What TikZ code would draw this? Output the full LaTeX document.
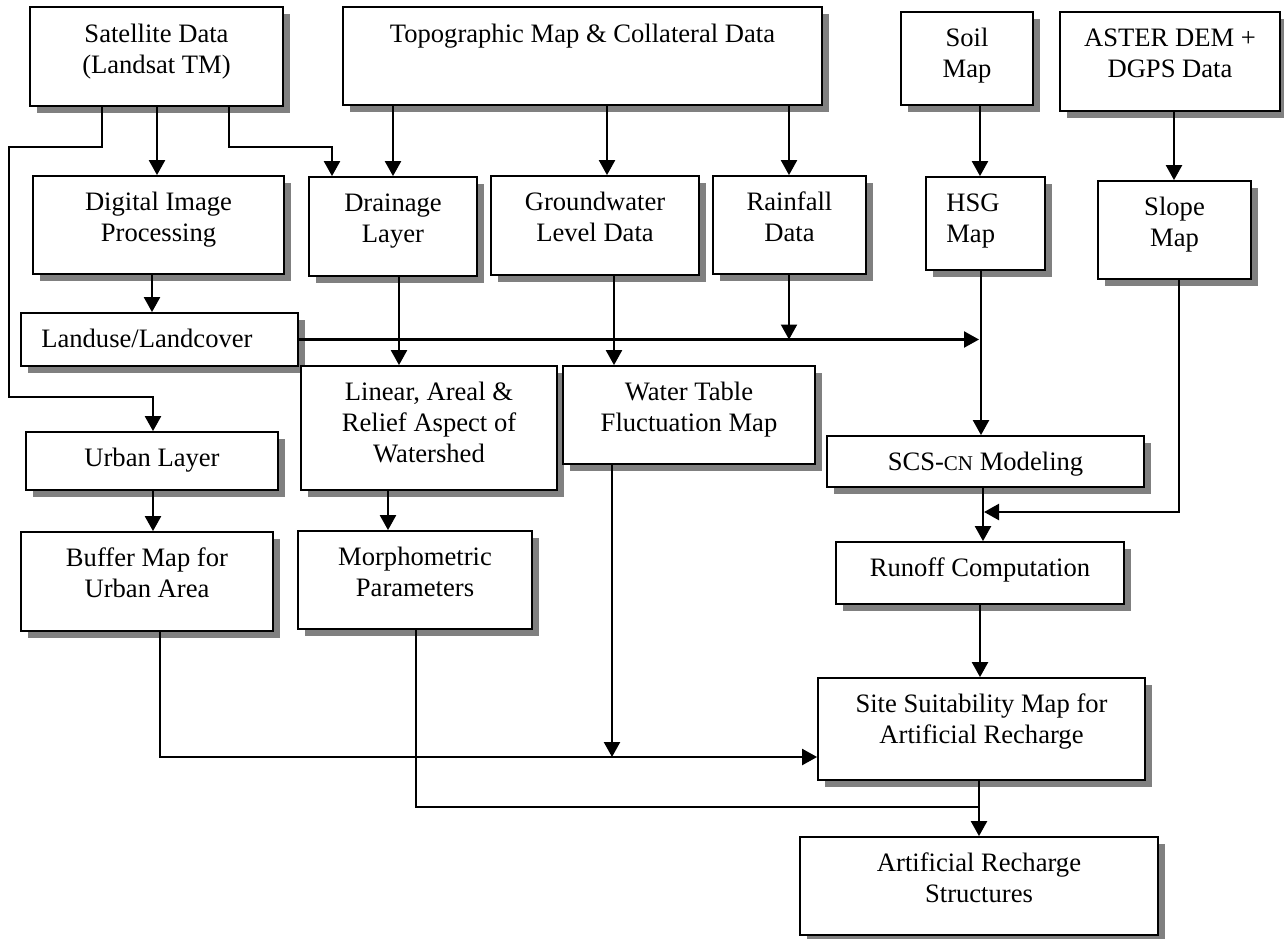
\documentclass[tikz,border=0pt]{standalone}
\usepackage{fontspec}
\setmainfont{Liberation Serif}
\usetikzlibrary{arrows.meta,shadows}
\definecolor{shadowgray}{RGB}{128,128,128}
\newcommand\fbx[5]{%
  \pgfmathsetmacro\bxw{#4-#2}%
  \pgfmathsetmacro\bxh{#5-#3}%
  \pgfmathsetmacro\bxx{(#2+#4)/2}%
  \pgfmathsetmacro\bxy{(#3+#5)/2}%
  \node[flowbox, minimum width=\bxw pt, minimum height=\bxh pt] (#1) at (\bxx,\bxy) {};%
}
\tikzset{
  flowbox/.style={draw, line width=1.8pt, fill=white, inner sep=0pt,
    drop shadow={shadow xshift=6.5pt, shadow yshift=-6.5pt, fill=shadowgray, opacity=1}},
  txt/.style={font=\fontsize{26.6}{31}\selectfont, align=center, inner sep=0pt, anchor=north},
  conn/.style={line width=2.3pt, -{Triangle[length=15pt,width=16pt]}},
  thinln/.style={line width=1.6pt},
}
\begin{document}
\begin{tikzpicture}[x=1pt,y=-1pt]
\useasboundingbox (0,0) rectangle (1284,938);
\fill[white] (0,0) rectangle (1284,938);

% boxes
\fbx{sat}{30}{7}{283}{106}
\fbx{topo}{343}{7}{822}{105}
\fbx{soil}{901}{12}{1033}{105}
\fbx{aster}{1060}{12}{1280}{111}
\fbx{dip}{33}{176}{284}{274}
\fbx{drain}{309}{177}{477}{276}
\fbx{gw}{491}{176}{699}{275}
\fbx{rain}{713}{176}{866}{274}
\fbx{hsg}{926}{177}{1045}{270}
\fbx{slope}{1098}{181}{1251}{279}
\fbx{land}{21}{313}{298}{366}
\fbx{lin}{301}{366}{557}{490}
\fbx{wt}{563}{366}{815}{464}
\fbx{urban}{26}{432}{278}{490}
\fbx{scs}{827}{436}{1144}{487}
\fbx{buffer}{21}{532}{273}{631}
\fbx{morpho}{298}{531}{532}{629}
\fbx{runoff}{836}{542}{1124}{604}
\fbx{site}{818}{678}{1145}{780}
\fbx{art}{800}{837}{1158}{935}

% texts
\node[txt] (sat-t) at ([yshift=-14pt]sat.north) {\strut Satellite Data\\(Landsat TM)};
\node[txt] (topo-t) at ([yshift=-14pt]topo.north) {\strut Topographic Map \& Collateral Data};
\node[txt] (soil-t) at ([yshift=-13pt]soil.north) {\strut Soil\\Map};
\node[txt] (aster-t) at ([yshift=-13pt]aster.north) {\strut ASTER DEM +\\DGPS Data};
\node[txt] (dip-t) at ([yshift=-13pt]dip.north) {\strut Digital Image\\Processing};
\node[txt] (drain-t) at ([yshift=-13pt]drain.north) {\strut Drainage\\Layer};
\node[txt] (gw-t) at ([yshift=-13pt]gw.north) {\strut Groundwater\\Level Data};
\node[txt] (rain-t) at ([yshift=-13pt]rain.north) {\strut Rainfall\\Data};
\node[txt, anchor=north west, align=left] (hsg-t) at ([xshift=21pt,yshift=-13pt]hsg.north west) {\strut HSG\\Map};
\node[txt] (slope-t) at ([yshift=-13pt]slope.north) {\strut Slope\\Map};
\node[txt, anchor=north west, align=left] (land-t) at ([xshift=21pt,yshift=-13pt]land.north west) {\strut Landuse/Landcover};
\node[txt] (lin-t) at ([yshift=-13pt]lin.north) {\strut Linear, Areal \&\\Relief Aspect of\\Watershed};
\node[txt] (wt-t) at ([yshift=-13pt]wt.north) {\strut Water Table\\Fluctuation Map};
\node[txt] (urban-t) at ([yshift=-13pt]urban.north) {\strut Urban Layer};
\node[txt] (scs-t) at ([yshift=-13pt]scs.north) {\strut SCS-{\fontsize{21}{31}\selectfont CN} Modeling};
\node[txt] (buffer-t) at ([yshift=-13pt]buffer.north) {\strut Buffer Map for\\Urban Area};
\node[txt] (morpho-t) at ([yshift=-13pt]morpho.north) {\strut Morphometric\\Parameters};
\node[txt] (runoff-t) at ([yshift=-13pt]runoff.north) {\strut Runoff Computation};
\node[txt] (site-t) at ([yshift=-13pt]site.north) {\strut Site Suitability Map for\\Artificial Recharge};
\node[txt] (art-t) at ([yshift=-13pt]art.north) {\strut Artificial Recharge\\Structures};

% junction coordinates
\coordinate (jrain) at (789,339.5);
\coordinate (jland) at (979,339.5);
\coordinate (jslope) at (984,512);
\coordinate (jwt) at (612,757);
\coordinate (jmorph) at (979,807);

% connectors
\draw[conn] (157,0 |- sat.south) -- (157,0 |- dip.north);
\draw[conn] (102,0 |- sat.south) -- (102,147) -- (9,147) -- (9,397) -- (153,397) -- (153,0 |- urban.north);
\draw[conn] (229,0 |- sat.south) -- (229,147) -- (332,147) -- (332,0 |- drain.north);
\draw[conn] (393,0 |- topo.south) -- (393,0 |- drain.north);
\draw[conn] (607,0 |- topo.south) -- (607,0 |- gw.north);
\draw[conn] (789,0 |- topo.south) -- (789,0 |- rain.north);
\draw[conn] (980,0 |- soil.south) -- (980,0 |- hsg.north);
\draw[conn] (1174,0 |- aster.south) -- (1174,0 |- slope.north);
\draw[conn] (152,0 |- dip.south) -- (152,0 |- land.north);
\draw[conn] (land.east) -- (jland);
\draw[conn] (789,0 |- rain.south) -- (jrain);
\draw[conn] (399,0 |- drain.south) -- (399,0 |- lin.north);
\draw[conn] (614,0 |- gw.south) -- (614,0 |- wt.north);
\draw[conn] (981,0 |- hsg.south) -- (981,0 |- scs.north);
\draw[conn] (983,0 |- scs.south) -- (983,0 |- runoff.north);
\draw[conn] (1179,0 |- slope.south) -- (1179,512) -- (jslope);
\draw[conn] (980,0 |- runoff.south) -- (980,0 |- site.north);
\draw[conn] (388,0 |- lin.south) -- (388,0 |- morpho.north);
\draw[conn] (153,0 |- urban.south) -- (153,0 |- buffer.north);
\draw[conn] (160,0 |- buffer.south) -- (160,757) -- (site.west |- 0,757);
\draw[conn] (612,0 |- wt.south) -- (jwt);
\draw[thinln] (416,0 |- morpho.south) -- (416,807) -- (jmorph);
\draw[conn] (979,0 |- site.south) -- (979,0 |- art.north);
\end{tikzpicture}
\end{document}
